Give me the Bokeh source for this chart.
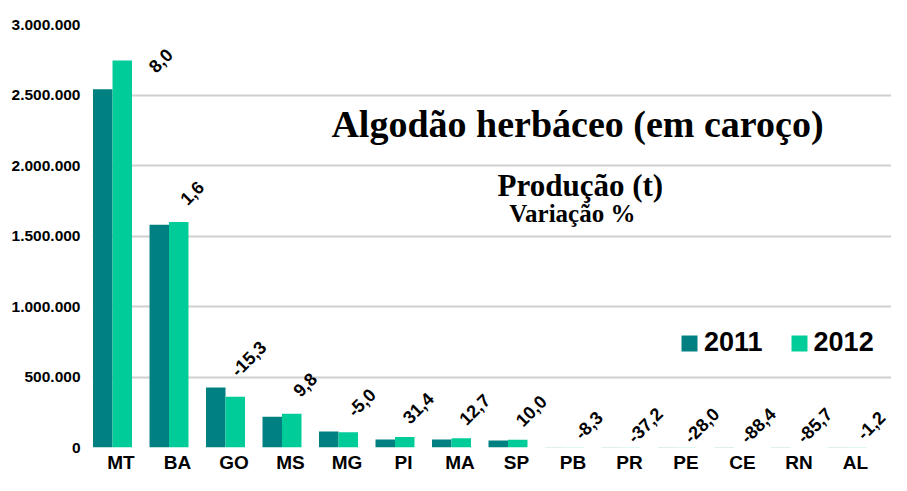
import math
from bokeh.plotting import figure
from bokeh.models import ColumnDataSource, FixedTicker, Label, Legend, LegendItem, Range1d
from bokeh.core.properties import value
from bokeh.embed import file_html
from bokeh.resources import INLINE

# ---- data ----
states = ["MT", "BA", "GO", "MS", "MG", "PI", "MA", "SP", "PB", "PR", "PE", "CE", "RN", "AL"]
prod_2011 = [2540000, 1580000, 425000, 218000, 114000, 57000, 57000, 50000, 2400, 2200, 1500, 1400, 1700, 1100]
prod_2012 = [2745000, 1600000, 360000, 240000, 108000, 75000, 65000, 55000, 2200, 1380, 1080, 160, 240, 1090]
variation = [8.0, 1.6, -15.3, 9.8, -5.0, 31.4, 12.7, 10.0, -8.3, -37.2, -28.0, -88.4, -85.7, -1.2]
y_ticks = [0, 500000, 1000000, 1500000, 2000000, 2500000, 3000000]
series_names = ["2011", "2012"]

C2011 = "#008080"
C2012 = "#00CC99"
SANS = "Liberation Sans"
SERIF = "Liberation Serif"

idx = list(range(len(states)))
bar_w = 0.345
y_end = y_ticks[-1]

src = ColumnDataSource(dict(
    x11=[i - bar_w / 2 for i in idx],
    x12=[i + bar_w / 2 for i in idx],
    v11=prod_2011,
    v12=prod_2012,
))

# variation labels placed above the taller bar of each pair
lab_x, lab_y, lab_t, lab_dx, lab_dy = [], [], [], [], []
for i, a, b, v in zip(idx, prod_2011, prod_2012, variation):
    top = max(a, b)
    lab_x.append(i)
    lab_y.append(top)
    lab_t.append(f"{v:.1f}".replace(".", ","))
    if top > 0.85 * y_end:          # too close to the top: beside the bar
        lab_dx.append(48)
        lab_dy.append(0)
    elif top < 0.005 * y_end:       # (almost) empty bars
        lab_dx.append(24)
        lab_dy.append(-22)
    else:
        lab_dx.append(23)
        lab_dy.append(-29)
lab_src = ColumnDataSource(dict(x=lab_x, y=lab_y, t=lab_t, dx=lab_dx, dy=lab_dy))

p = figure(width=891, height=475, output_backend="svg", toolbar_location=None,
           x_range=Range1d(-0.354, 13.788), y_range=Range1d(0, y_end),
           min_border_left=92, min_border_right=0, min_border_top=24, min_border_bottom=27)
p.outline_line_color = None
p.background_fill_color = "white"
p.border_fill_color = "white"

r11 = p.vbar(x="x11", top="v11", width=bar_w, source=src, fill_color=C2011, line_color=None)
r12 = p.vbar(x="x12", top="v12", width=bar_w, source=src, fill_color=C2012, line_color=None)

p.text(x="x", y="y", text="t", source=lab_src, angle=math.pi / 4,
       x_offset="dx", y_offset="dy",
       text_align="center", text_baseline="middle",
       text_font=value(SANS), text_font_style="bold", text_font_size="18px", text_color="black")

# axes
p.xgrid.grid_line_color = None
p.ygrid.ticker = FixedTicker(ticks=y_ticks)
p.ygrid.grid_line_color = "#d0d0d0"
p.ygrid.grid_line_width = 2

p.yaxis.ticker = FixedTicker(ticks=y_ticks)
p.yaxis.major_label_overrides = {t: f"{t:,}".replace(",", ".") for t in y_ticks}
p.yaxis.axis_line_color = None
p.yaxis.major_tick_line_color = None
p.yaxis.minor_tick_line_color = None
p.yaxis.major_tick_out = 0
p.yaxis.major_tick_in = 0
p.yaxis.minor_tick_out = 0
p.yaxis.major_label_standoff = 12
p.yaxis.major_label_text_font = SANS
p.yaxis.major_label_text_font_style = "bold"
p.yaxis.major_label_text_font_size = "15.5px"
p.yaxis.major_label_text_color = "black"

label_shift = 0.15
p.xaxis.ticker = FixedTicker(ticks=[i + label_shift for i in idx])
p.xaxis.major_label_overrides = {i + label_shift: s for i, s in zip(idx, states)}
p.xaxis.axis_line_color = None
p.xaxis.major_tick_line_color = None
p.xaxis.minor_tick_line_color = None
p.xaxis.major_tick_out = 0
p.xaxis.major_tick_in = 0
p.xaxis.minor_tick_out = 0
p.xaxis.major_label_standoff = 4
p.xaxis.major_label_text_font = SANS
p.xaxis.major_label_text_font_style = "bold"
p.xaxis.major_label_text_font_size = "19px"
p.xaxis.major_label_text_color = "black"

# titles
p.add_layout(Label(x=8.23, y=2292000, text="Algodão herbáceo (em caroço)", text_align="center",
                   text_baseline="alphabetic", text_font=SERIF, text_font_style="bold",
                   text_font_size="38px", text_color="black"))
p.add_layout(Label(x=8.28, y=1860000, text="Produção (t)", text_align="center",
                   text_baseline="alphabetic", text_font=SERIF, text_font_style="bold",
                   text_font_size="31px", text_color="black"))
p.add_layout(Label(x=8.14, y=1662000, text="Variação %", text_align="center",
                   text_baseline="alphabetic", text_font=SERIF, text_font_style="bold",
                   text_font_size="25px", text_color="black"))

legend = Legend(items=[LegendItem(label=series_names[0], renderers=[r11]),
                       LegendItem(label=series_names[1], renderers=[r12])],
                location=(587, 89), orientation="horizontal",
                glyph_width=20, glyph_height=20, label_standoff=5, spacing=26,
                padding=0, margin=0, border_line_color=None, background_fill_alpha=0,
                label_text_font=SANS, label_text_font_style="bold",
                label_text_font_size="27px", label_text_color="black")
p.add_layout(legend)

open("out.html", "w").write(file_html(p, INLINE))
